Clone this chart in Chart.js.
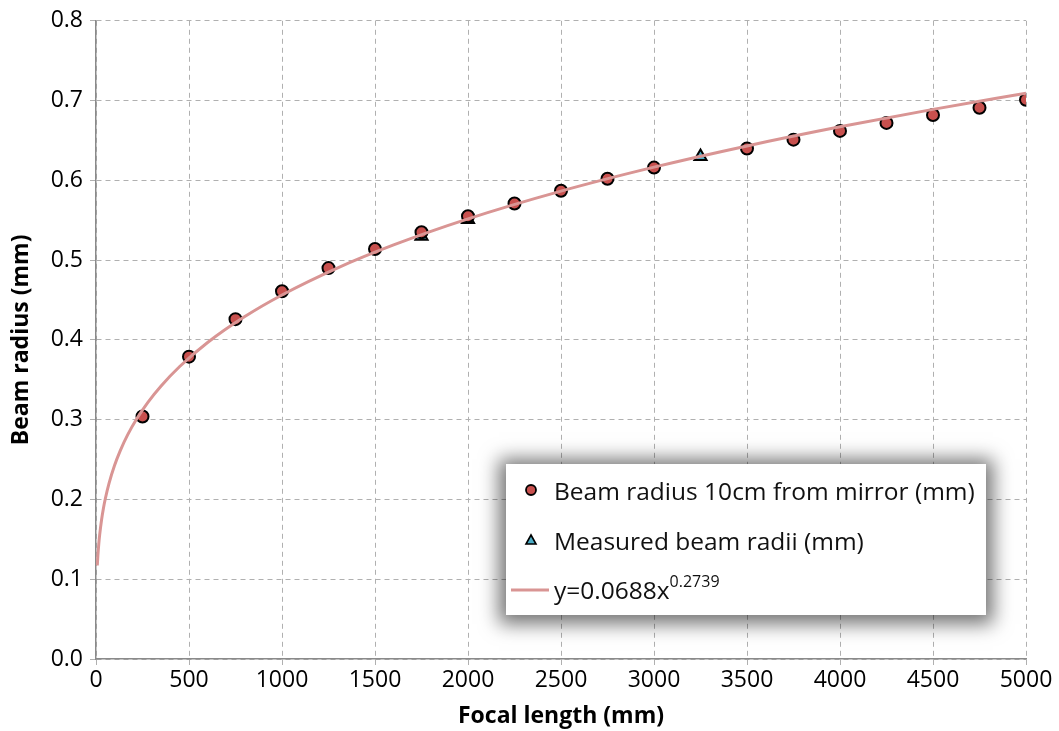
<!DOCTYPE html>
<html>
<head>
<meta charset="utf-8">
<script src="https://cdn.jsdelivr.net/npm/chart.js@4/dist/chart.umd.min.js"></script>
<style>
  html, body { margin: 0; padding: 0; background: #fff; }
  #wrap { position: relative; width: 1059px; height: 731px; }
  #legend {
    position: absolute; left: 506px; top: 464px; width: 480px; height: 151px;
    background: #fff; box-shadow: 0 2px 18px 7px rgba(0,0,0,0.55);
    font-family: "Open Sans", sans-serif; font-size: 24.5px; color: #111;
  }
  #legend .row { position: absolute; left: 0; height: 30px; display: flex; align-items: center; }
  #legend svg { display: block; }
  #legend .lbl { position: absolute; left: 48px; white-space: nowrap; }
  #legend sup { font-size: 16px; position: relative; top: -3px; }
</style>
</head>
<body>
<div id="wrap">
  <canvas id="c" width="1059" height="731"></canvas>
  <div id="legend">
    <div class="row" style="top:11px;width:480px">
      <svg width="48" height="30"><circle cx="25" cy="15" r="5" fill="#c8504e" stroke="#000" stroke-width="1.8"/></svg>
      <span class="lbl">Beam radius 10cm from mirror (mm)</span>
    </div>
    <div class="row" style="top:61px;width:480px">
      <svg width="48" height="30"><polygon points="25,10 30,19 20,19" fill="#4bacc6" stroke="#000" stroke-width="1.6"/></svg>
      <span class="lbl">Measured beam radii (mm)</span>
    </div>
    <div class="row" style="top:111px;width:480px">
      <svg width="48" height="30"><line x1="5" y1="15" x2="43" y2="15" stroke="#d99594" stroke-width="3"/></svg>
      <span class="lbl">y=0.0688x<sup>0.2739</sup></span>
    </div>
  </div>
</div>
<script>
// Focal lengths (mm) and the beam radius 10 cm from the mirror (mm)
const focalLengths = [250, 500, 750, 1000, 1250, 1500, 1750, 2000, 2250, 2500,
                      2750, 3000, 3500, 3750, 4000, 4250, 4500, 4750, 5000];
const beamRadius   = [0.304, 0.379, 0.426, 0.461, 0.490, 0.514, 0.535, 0.555, 0.571, 0.587,
                      0.602, 0.616, 0.640, 0.651, 0.662, 0.672, 0.682, 0.691, 0.701];

// Measured beam radii (mm)
const measuredFocal  = [1750, 2000, 3250];
const measuredRadius = [0.530, 0.551, 0.630];

// Power-law fit y = a * x^b
const fitA = 0.0688;
const fitB = 0.2739;
const fitX = [7, 10, 15, 20, 30, 40, 50, 70, 100, 130, 170, 220, 280, 350, 450, 600, 800,
              1000, 1300, 1600, 2000, 2500, 3000, 3500, 4000, 4500, 5000];

const xTicks = [0, 500, 1000, 1500, 2000, 2500, 3000, 3500, 4000, 4500, 5000];
const yTicks = [0, 0.1, 0.2, 0.3, 0.4, 0.5, 0.6, 0.7, 0.8];

const toPoints = (xs, ys) => xs.map((x, i) => ({ x, y: ys[i] }));
const fitPoints = fitX.map(x => ({ x, y: fitA * Math.pow(x, fitB) }));

const FONT = "'Open Sans', sans-serif";
// grid lines dashed (border.dash in v4), tick marks solid
const gridCommon = { color: '#b0b0b0', lineWidth: 1, tickLength: 6, tickColor: '#b0b0b0',
                     tickBorderDash: [], drawTicks: true };
const axisBorder = { display: true, color: '#8a8a8a', width: 1.5, dash: [5, 4] };

new Chart(document.getElementById('c'), {
  type: 'scatter',
  data: {
    datasets: [
      {
        label: 'y=0.0688x^0.2739', data: fitPoints, showLine: true,
        borderColor: '#d99594', borderWidth: 3, pointRadius: 0,
        cubicInterpolationMode: 'monotone', order: 0
      },
      {
        label: 'Beam radius 10cm from mirror (mm)', data: toPoints(focalLengths, beamRadius),
        backgroundColor: '#c8504e', borderColor: '#000', borderWidth: 2,
        pointRadius: 6, pointStyle: 'circle', order: 1
      },
      {
        label: 'Measured beam radii (mm)', data: toPoints(measuredFocal, measuredRadius),
        backgroundColor: '#4bacc6', borderColor: '#000', borderWidth: 2,
        pointRadius: 7, pointStyle: 'triangle', order: 2
      }
    ]
  },
  options: {
    responsive: false, animation: false, devicePixelRatio: 1,
    layout: { padding: { left: 0, top: 16, right: 33, bottom: 0 } },
    plugins: { legend: { display: false }, tooltip: { enabled: false } },
    scales: {
      x: {
        type: 'linear', min: 0, max: 5000,
        afterBuildTicks: s => { s.ticks = xTicks.map(v => ({ value: v })); },
        afterFit: s => { s.height = 72; },
        ticks: { color: '#000', font: { family: FONT, size: 23 }, padding: 2, maxRotation: 0,
                 callback: v => String(v) },
        grid: Object.assign({}, gridCommon),
        border: axisBorder,
        title: { display: true, text: 'Focal length (mm)', color: '#000',
                 font: { family: FONT, size: 23, weight: 'bold' }, padding: { bottom: 1, top: 0 } }
      },
      y: {
        type: 'linear', min: 0, max: 0.8,
        afterBuildTicks: s => { s.ticks = yTicks.map(v => ({ value: v })); },
        afterFit: s => { s.width = 96; },
        ticks: { color: '#000', font: { family: FONT, size: 23 }, padding: 7,
                 callback: v => Number(v).toFixed(1) },
        grid: Object.assign({}, gridCommon),
        border: axisBorder,
        title: { display: true, text: 'Beam radius (mm)', color: '#000',
                 font: { family: FONT, size: 23, weight: 'bold' }, padding: { top: 8, bottom: 0 } }
      }
    }
  }
});
</script>
</body>
</html>
